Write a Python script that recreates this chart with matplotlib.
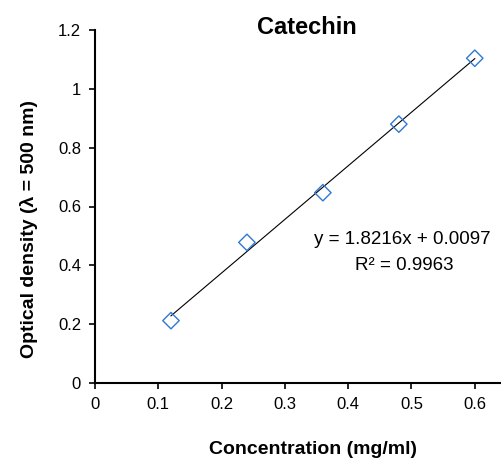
import matplotlib
matplotlib.use("Agg")
import matplotlib.pyplot as plt
from matplotlib import font_manager

# data
conc = [0.12, 0.24, 0.36, 0.48, 0.60]
od = [0.212, 0.478, 0.647, 0.880, 1.104]
slope, intercept = 1.8216, 0.0097
r2 = 0.9963
xticks = [0, 0.1, 0.2, 0.3, 0.4, 0.5, 0.6]
yticks = [0, 0.2, 0.4, 0.6, 0.8, 1.0, 1.2]
ytick_labels = ['0', '0.2', '0.4', '0.6', '0.8', '1', '1.2']

names = {f.name for f in font_manager.fontManager.ttflist}
fam = 'Liberation Sans Narrow' if 'Liberation Sans Narrow' in names else 'Liberation Sans'
plt.rcParams['font.family'] = [fam, 'DejaVu Sans']

fig = plt.figure(figsize=(5.02, 4.68), dpi=100)
ax = fig.add_axes([95/502, 85/468, 1 - 95/502, 353/468])

fit_y = [slope * x + intercept for x in (conc[0], conc[-1])]
ax.plot([conc[0], conc[-1]], fit_y, color='black', lw=0.8, zorder=2)
ax.scatter(conc, od, marker='D', s=70, facecolors='none',
           edgecolors='#2f78d2', linewidths=1.0, zorder=3)

ax.set_xlim(0, 0.643)
ax.set_ylim(0, 1.2)
ax.set_xticks(xticks)
ax.set_xticklabels([('%g' % t) for t in xticks])
ax.set_yticks(yticks)
ax.set_yticklabels(ytick_labels)
ax.tick_params(labelsize=12, direction='out', length=4, width=1.2, pad=6)
for s in ['top', 'right']:
  ax.spines[s].set_visible(False)
for s in ['left', 'bottom']:
  ax.spines[s].set_linewidth(1.5)

ax.set_xlabel('Concentration (mg/ml)', fontsize=14, fontweight='bold')
ax.xaxis.set_label_coords((313-95)/407, -(441-383)/353, transform=ax.transAxes)
ax.set_ylabel('Optical density (λ = 500 nm)', fontsize=14, fontweight='bold')
ax.yaxis.set_label_coords(-(95-38)/407, (383-229)/353, transform=ax.transAxes)

fig.text(307/502, 1 - 28/468, 'Catechin', fontsize=17, fontweight='bold',
         ha='center', va='center')

ax.text(0.485, 0.489, 'y = %.4fx + %.4f' % (slope, intercept), fontsize=13.5,
        ha='center', va='center')
ax.text(0.488, 0.398, 'R² = %.4f' % r2, fontsize=13.5, ha='center', va='center')

fig.savefig('out.png', dpi=100)
